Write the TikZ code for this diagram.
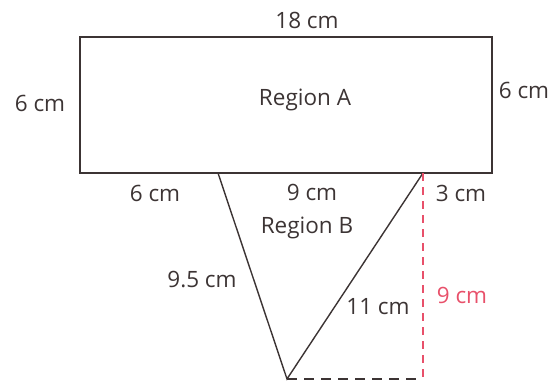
\documentclass[tikz,border=0pt]{standalone}
\usepackage{fontspec}
\setmainfont{Open Sans}
\usepackage{xcolor}
\usetikzlibrary{positioning}
\definecolor{ink}{HTML}{3C3434}
\definecolor{redline}{HTML}{E8506A}

\begin{document}
\begin{tikzpicture}[x=0.025cm, y=0.025cm,
  edge/.style={draw=ink, line width=1pt},
  dashline/.style={draw=ink, line width=1pt, dash pattern=on 0.25cm off 0.175cm},
  heightline/.style={draw=redline, line width=1pt, dash pattern=on 0.2cm off 0.15cm},
  lbl/.style={font=\fontsize{16}{18}\selectfont, text=ink, inner sep=1pt},
  redlbl/.style={lbl, text=redline}
]
\useasboundingbox (0,0) rectangle (552,383);

% Corners
\coordinate (tl) at (80,346);
\coordinate (br) at (492,210);
\coordinate (left)  at (218,210);
\coordinate (right) at (423,210);
\coordinate (apex)  at (287,4);
\coordinate (foot)  at (423,4);

% Region A
\draw[edge] (tl) rectangle (br);

% Region B
\draw[edge] (left) -- (apex) -- (right);
\draw[heightline] (right) -- (foot);
\draw[dashline] (apex) -- (foot);

% Labels
\node[lbl] (top)    at (307,363) {18 cm};
\node[lbl] (regA)   at (305,283) {Region A};
\node[lbl] (sideL)  at (40,280)  {6 cm};
\node[lbl] (sideR)  at (524,293) {6 cm};
\node[lbl] (botL)   at (155,190) {6 cm};
\node[lbl] (botM)   at (312,191) {9 cm};
\node[lbl] (botR)   at (461,190) {3 cm};
\node[lbl] (regB)   at (307,155) {Region B};
\node[lbl] (slantL) at (202,103) {9.5 cm};
\node[lbl] (slantR) at (378,76)  {11 cm};
\node[redlbl] (hgt) at (462,88)  {9 cm};

\end{tikzpicture}
\end{document}
